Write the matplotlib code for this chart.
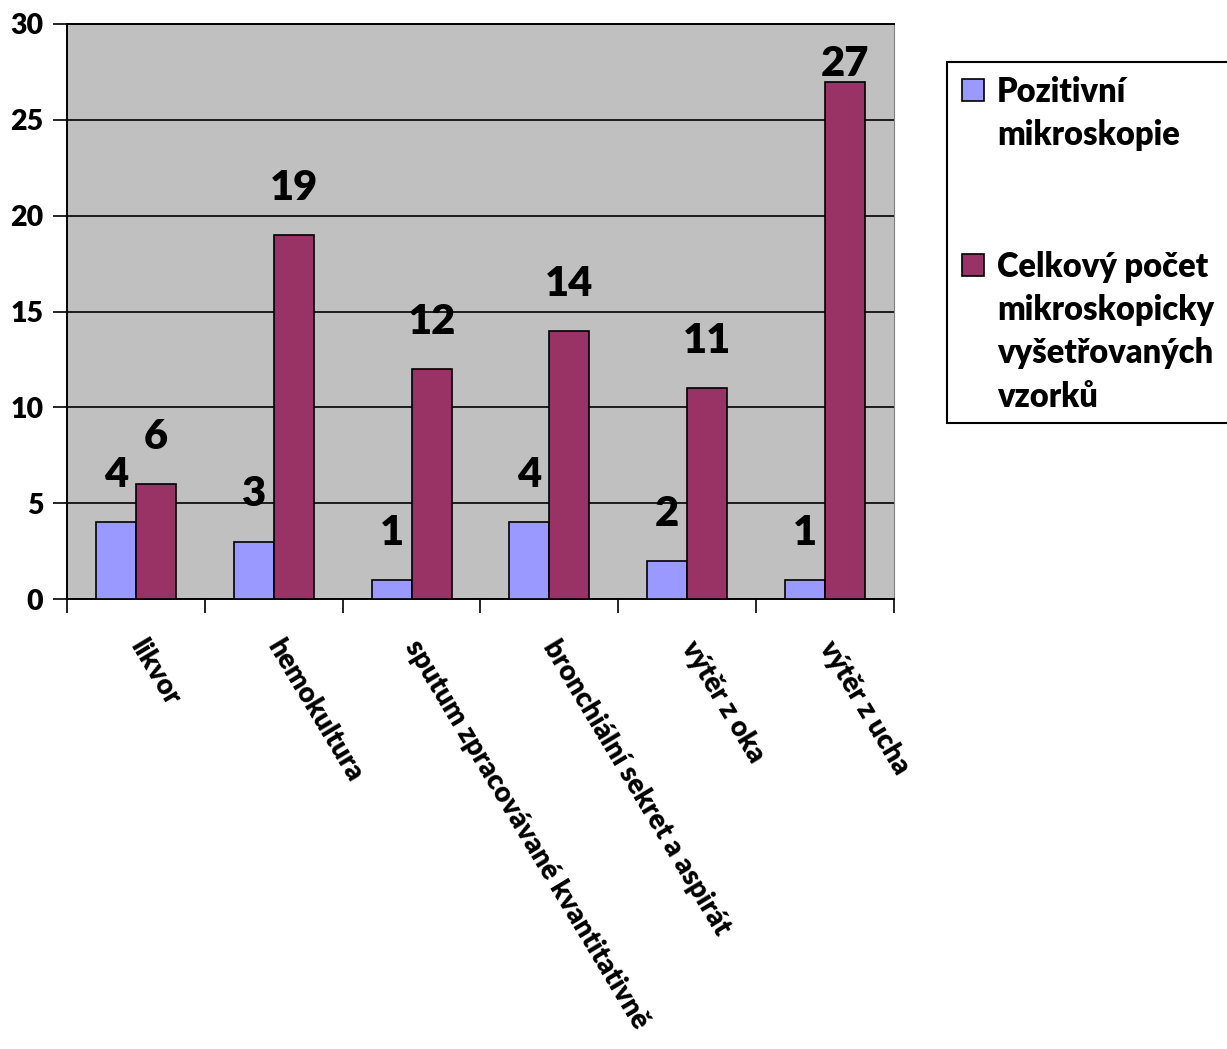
import matplotlib
matplotlib.use("Agg")
import numpy as np
from matplotlib import pyplot as plt
from matplotlib.patches import Rectangle

# data
categories = ["likvor", "hemokultura", "sputum zpracovávané kvantitativně",
              "bronchiální sekret a aspirát", "výtěr z oka", "výtěr z ucha"]
positive = [4, 3, 1, 4, 2, 1]
total = [6, 19, 12, 14, 11, 27]
y_ticks = [0, 5, 10, 15, 20, 25, 30]
series_names = ["Pozitivní\nmikroskopie",
                "Celkový počet\nmikroskopicky\nvyšetřovaných\nvzorků"]
colors = ["#9999FF", "#993366"]

WEIGHT = "heavy"
plt.rcParams['font.family'] = ['Lato', 'DejaVu Sans']
plt.rcParams['font.weight'] = WEIGHT

W, H = 1227, 1049
fig = plt.figure(figsize=(W / 100, H / 100), dpi=100)
ax = fig.add_axes([67 / W, 1 - 599 / H, (894 - 67) / W, (599 - 24) / H])
ax.set_facecolor("#C0C0C0")

x = np.arange(len(categories))
bw = 0.29
bars_pos = ax.bar(x - bw / 2, positive, bw, color=colors[0], edgecolor="black", linewidth=1.2, zorder=3)
bars_tot = ax.bar(x + bw / 2, total, bw, color=colors[1], edgecolor="black", linewidth=1.2, zorder=3)

# value labels above the bars, pulled down when they would leave the plot
for bars, vals in [(bars_pos, positive), (bars_tot, total)]:
    for b, v in zip(bars, vals):
        ypos = v + 1.83
        if ypos + 1.5 > 30:
            ypos = v + 0.3
        ax.text(b.get_x() + b.get_width() / 2, ypos, str(v), ha="center", va="baseline",
                fontsize=30, fontweight=WEIGHT, zorder=4)

ax.set_xlim(-0.5, len(categories) - 0.5)
ax.set_ylim(0, 30)
ax.set_yticks(y_ticks)
ax.set_yticklabels([])
ax.yaxis.grid(True, color="black", linewidth=1.2, zorder=1)
ax.tick_params(axis="y", length=10, width=1.2, direction="out")
# y labels as plain texts so they get the same heavy weight
for t in y_ticks:
    ax.annotate(str(t), (-0.5, t), xytext=(-17, 0), textcoords="offset points",
                ha="right", va="center_baseline", fontsize=20.5, fontweight=WEIGHT,
                annotation_clip=False)

# ticks between categories, labels rotated under category centres
ax.set_xticks(np.arange(-0.5, len(categories), 1))
ax.set_xticklabels([])
ax.tick_params(axis="x", length=10, width=1.2, direction="out")
for i, name in enumerate(categories):
    ax.annotate(name, (x[i], 0), xytext=(8, -26), textcoords="offset points",
                rotation=-59, rotation_mode="anchor", ha="left", va="top",
                fontsize=20, fontweight=WEIGHT, annotation_clip=False)

for s in ["left", "bottom", "top"]:
    ax.spines[s].set_color("black")
    ax.spines[s].set_linewidth(1.4)
ax.spines["right"].set_color("#808080")

# legend drawn by hand so the markers sit on the first line
fig.patches.append(Rectangle((947 / W, 1 - 423 / H), 300 / W, (423 - 62) / H,
                             transform=fig.transFigure, facecolor="white",
                             edgecolor="black", linewidth=1.5))
first_lines = [90, 265]
for name, col, yl in zip(series_names, colors, first_lines):
    fig.patches.append(Rectangle((962 / W, 1 - (yl + 11) / H), 22 / W, 22 / H,
                                 transform=fig.transFigure, facecolor=col,
                                 edgecolor="black", linewidth=1.2, zorder=5))
    fig.text(997 / W, 1 - (yl - 14) / H, name, ha="left", va="top",
             fontsize=23.5, fontweight=WEIGHT, linespacing=1.43)

fig.savefig("out.png", dpi=100)
